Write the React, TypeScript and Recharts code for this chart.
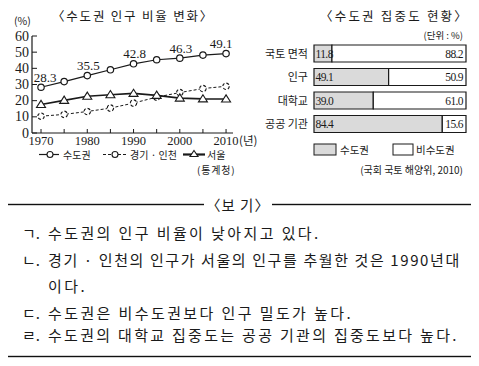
import { LineChart, Line, XAxis, YAxis, LabelList, BarChart, Bar } from "recharts";

// 수도권 인구 비율 (%)
const years = [1970, 1975, 1980, 1985, 1990, 1995, 2000, 2005, 2010];
const capitalPct = [28.3, 31.8, 35.5, 39.1, 42.8, 45.3, 46.3, 48.2, 49.1];
const gyeonggiPct = [10.4, 11.5, 13.3, 15.4, 18.5, 22.2, 25.0, 27.5, 28.9];
const seoulPct = [17.6, 20.2, 22.7, 23.7, 24.5, 23.3, 21.6, 21.1, 21.0];
const yTicks = [0, 10, 20, 30, 40, 50, 60];
const xTicks = years;

// 수도권 집중도 (%)
const regions = ["국토 면적", "인구", "대학교", "공공 기관"];
const capitalShare = [11.8, 49.1, 39.0, 84.4];
const otherShare = [88.2, 50.9, 61.0, 15.6];

const notes = [
  { mark: "ㄱ.", text: "수도권의 인구 비율이 낮아지고 있다.", y: 233, ls: 2.4 },
  { mark: "ㄴ.", text: "경기 · 인천의 인구가 서울의 인구를 추월한 것은 1990년대", y: 260, ls: 1.6 },
  { mark: "", text: "이다.", y: 286, ls: 2.4 },
  { mark: "ㄷ.", text: "수도권은 비수도권보다 인구 밀도가 높다.", y: 313, ls: 2.4 },
  { mark: "ㄹ.", text: "수도권의 대학교 집중도는 공공 기관의 집중도보다 높다.", y: 335, ls: 2.3 },
];

const KR = "'Noto Sans CJK KR', sans-serif";
const NUM = "'Liberation Serif', 'Noto Sans CJK KR', serif";
const INK = "#1a1a1a";

const lineData = years.map((year, i) => ({
  year,
  capital: capitalPct[i],
  gyeonggi: gyeonggiPct[i],
  seoul: seoulPct[i],
}));

const barData = regions.map((region, i) => ({
  region,
  capital: capitalShare[i],
  other: otherShare[i],
}));

const XTick = ({ x, y, payload }: any) => {
  const v = payload.value;
  return (
    <g>
      <line x1={x} x2={x} y1={y} y2={y - 4} stroke={INK} strokeWidth={1} />
      {v % 10 === 0 && (
        <text x={x} y={y + 12} textAnchor="middle" fontFamily={NUM} fontSize={12.5} fill={INK}>
          {v}
        </text>
      )}
      {v === 2010 && (
        <text x={x + 13} y={y + 12} fontFamily={KR} fontSize={11.5} fill={INK}>
          (년)
        </text>
      )}
    </g>
  );
};

const YTick = ({ x, y, payload }: any) => (
  <g>
    <line x1={x} x2={x + 5} y1={y} y2={y} stroke={INK} strokeWidth={1} />
    <text x={x - 3} y={y + 4.5} textAnchor="end" fontFamily={NUM} fontSize={14} fill={INK}>
      {payload.value}
    </text>
  </g>
);

const Triangle = ({ cx, cy }: any) => (
  <path
    d={`M${cx},${cy - 4.2} L${cx + 4.5},${cy + 3} L${cx - 4.5},${cy + 3} Z`}
    fill="#fff"
    stroke={INK}
    strokeWidth={1.1}
  />
);

const PeakLabel = ({ x, y, value, index }: any) => {
  if (index % 2 !== 0) return null;
  const dx = index === years.length - 1 ? -5 : index === 0 ? 4 : 1;
  return (
    <text x={x + dx} y={y - 5.5} textAnchor="middle" fontFamily={NUM} fontSize={13} fill={INK}>
      {value.toFixed(1)}
    </text>
  );
};

const RegionTick = ({ x, y, payload }: any) => (
  <text x={x - 6} y={y + 4} textAnchor="end" fontFamily={KR} fontSize={11} fill={INK}>
    {payload.value}
  </text>
);

const dotStyle = { r: 3.2, fill: "#fff", stroke: INK, strokeWidth: 1.2 };
const barLabelStyle = { fontFamily: NUM, fontSize: 11.5, letterSpacing: -0.6, fill: INK };

export default function App() {
  return (
    <div style={{ position: "relative", width: 479, height: 366, margin: -8, background: "#fff", color: INK }}>
      {/* left: line chart */}
      <div style={{ position: "absolute", left: 52, top: 6, width: 161, textAlign: "center", fontFamily: KR, fontSize: 12.5, letterSpacing: 1.8, whiteSpace: "nowrap" }}>
        〈수도권 인구 비율 변화〉
      </div>
      <div style={{ position: "absolute", left: 14, top: 14, fontFamily: KR, fontSize: 10.5, lineHeight: "14px" }}>(%)</div>
      <div style={{ position: "absolute", left: 0, top: 0 }}>
        <LineChart width={262} height={150} data={lineData} margin={{ top: 36, right: 29, left: 0, bottom: 0 }}>
          <XAxis
            dataKey="year"
            type="number"
            domain={[1968.05, 2011.5]}
            allowDataOverflow
            ticks={xTicks}
            height={17}
            tickSize={0}
            tickMargin={0}
            tickLine={false}
            axisLine={{ stroke: INK, strokeWidth: 1.2 }}
            tick={<XTick />}
            interval={0}
          />
          <YAxis
            type="number"
            domain={[0, 60]}
            ticks={yTicks}
            width={32}
            tickSize={0}
            tickMargin={0}
            tickLine={false}
            axisLine={{ stroke: INK, strokeWidth: 1.2 }}
            tick={<YTick />}
            interval={0}
          />
          <Line dataKey="gyeonggi" stroke={INK} strokeWidth={1} strokeDasharray="3 2" dot={dotStyle} isAnimationActive={false} />
          <Line dataKey="seoul" stroke={INK} strokeWidth={1.6} dot={<Triangle />} isAnimationActive={false} />
          <Line dataKey="capital" stroke={INK} strokeWidth={1.2} dot={dotStyle} isAnimationActive={false}>
            <LabelList dataKey="capital" content={<PeakLabel />} />
          </Line>
        </LineChart>
      </div>
      <svg style={{ position: "absolute", left: 0, top: 142 }} width={240} height={40}>
        <g fontFamily={KR} fontSize={10} fill={INK}>
          <line x1={39} x2={59} y1={12.5} y2={12.5} stroke={INK} strokeWidth={1.2} />
          <circle cx={50} cy={12.5} r={3} fill="#fff" stroke={INK} strokeWidth={1.1} />
          <text x={63} y={17}>수도권</text>
          <line x1={103} x2={127} y1={12.5} y2={12.5} stroke={INK} strokeWidth={1} strokeDasharray="3 2" />
          <circle cx={115} cy={12.5} r={3} fill="#fff" stroke={INK} strokeWidth={1.1} />
          <text x={130} y={17}>경기 · 인천</text>
          <line x1={183} x2={205} y1={12.5} y2={12.5} stroke={INK} strokeWidth={2.2} />
          <path d="M194,8.5 L198,14.5 L190,14.5 Z" fill="#fff" stroke={INK} strokeWidth={1.1} />
          <text x={207} y={17}>서울</text>
          <text x={197} y={32} letterSpacing={0.8}>(통계청)</text>
        </g>
      </svg>

      {/* right: stacked bar chart */}
      <div style={{ position: "absolute", left: 320, top: 6, width: 142, textAlign: "center", fontFamily: KR, fontSize: 12.5, letterSpacing: 2.2, whiteSpace: "nowrap" }}>
        〈수도권 집중도 현황〉
      </div>
      <div style={{ position: "absolute", right: 16, top: 28, fontFamily: KR, fontSize: 9.5 }}>(단위 : %)</div>
      <div style={{ position: "absolute", left: 240, top: 0 }}>
        <BarChart layout="vertical" width={239} height={190} data={barData} margin={{ top: 42, right: 13, left: 0, bottom: 54 }}>
          <XAxis type="number" domain={[0, 100]} hide />
          <YAxis
            type="category"
            dataKey="region"
            width={74}
            axisLine={false}
            tickLine={false}
            tickSize={0}
            tickMargin={0}
            tick={<RegionTick />}
            interval={0}
          />
          <Bar dataKey="capital" stackId="a" barSize={17} fill="#dadada" stroke={INK} strokeWidth={1.2} isAnimationActive={false}>
            <LabelList
              dataKey="capital"
              position="insideLeft"
              offset={1.5}
              formatter={(v: any) => Number(v).toFixed(1)}
              style={barLabelStyle}
            />
          </Bar>
          <Bar dataKey="other" stackId="a" barSize={17} fill="#fff" stroke={INK} strokeWidth={1.2} isAnimationActive={false}>
            <LabelList
              dataKey="other"
              position="insideRight"
              offset={3}
              formatter={(v: any) => Number(v).toFixed(1)}
              style={barLabelStyle}
            />
          </Bar>
        </BarChart>
      </div>
      <svg style={{ position: "absolute", left: 300, top: 140 }} width={179} height={40}>
        <g fontFamily={KR} fill={INK}>
          <rect x={14} y={4} width={22} height={11} fill="#dadada" stroke={INK} strokeWidth={1} />
          <text x={40} y={14} fontSize={10.5}>수도권</text>
          <rect x={93} y={4} width={20} height={11} fill="#fff" stroke={INK} strokeWidth={1} />
          <text x={116} y={14} fontSize={10.5}>비수도권</text>
          <text x={163} y={34} fontSize={10} textAnchor="end">(국회 국토 해양위, 2010)</text>
        </g>
      </svg>

      {/* bottom: 보기 box */}
      <svg style={{ position: "absolute", left: 0, top: 190 }} width={479} height={176}>
        <rect x={6.5} y={14.5} width={467} height={152} fill="none" stroke="#111" strokeWidth={1.4} />
      </svg>
      <div style={{ position: "absolute", left: 204, top: 195, width: 68, textAlign: "center", background: "#fff", fontFamily: KR, fontSize: 14.5, lineHeight: "20px", letterSpacing: 1 }}>
        〈보 기〉
      </div>
      {notes.map((n, i) => (
        <div
          key={i}
          style={{
            position: "absolute",
            left: 22,
            top: n.y - 10,
            display: "flex",
            fontFamily: KR,
            fontSize: 15,
            lineHeight: "20px",
            whiteSpace: "nowrap",
          }}
        >
          <span style={{ width: 26 }}>{n.mark}</span>
          <span style={{ letterSpacing: n.ls }}>{n.text}</span>
        </div>
      ))}
    </div>
  );
}
